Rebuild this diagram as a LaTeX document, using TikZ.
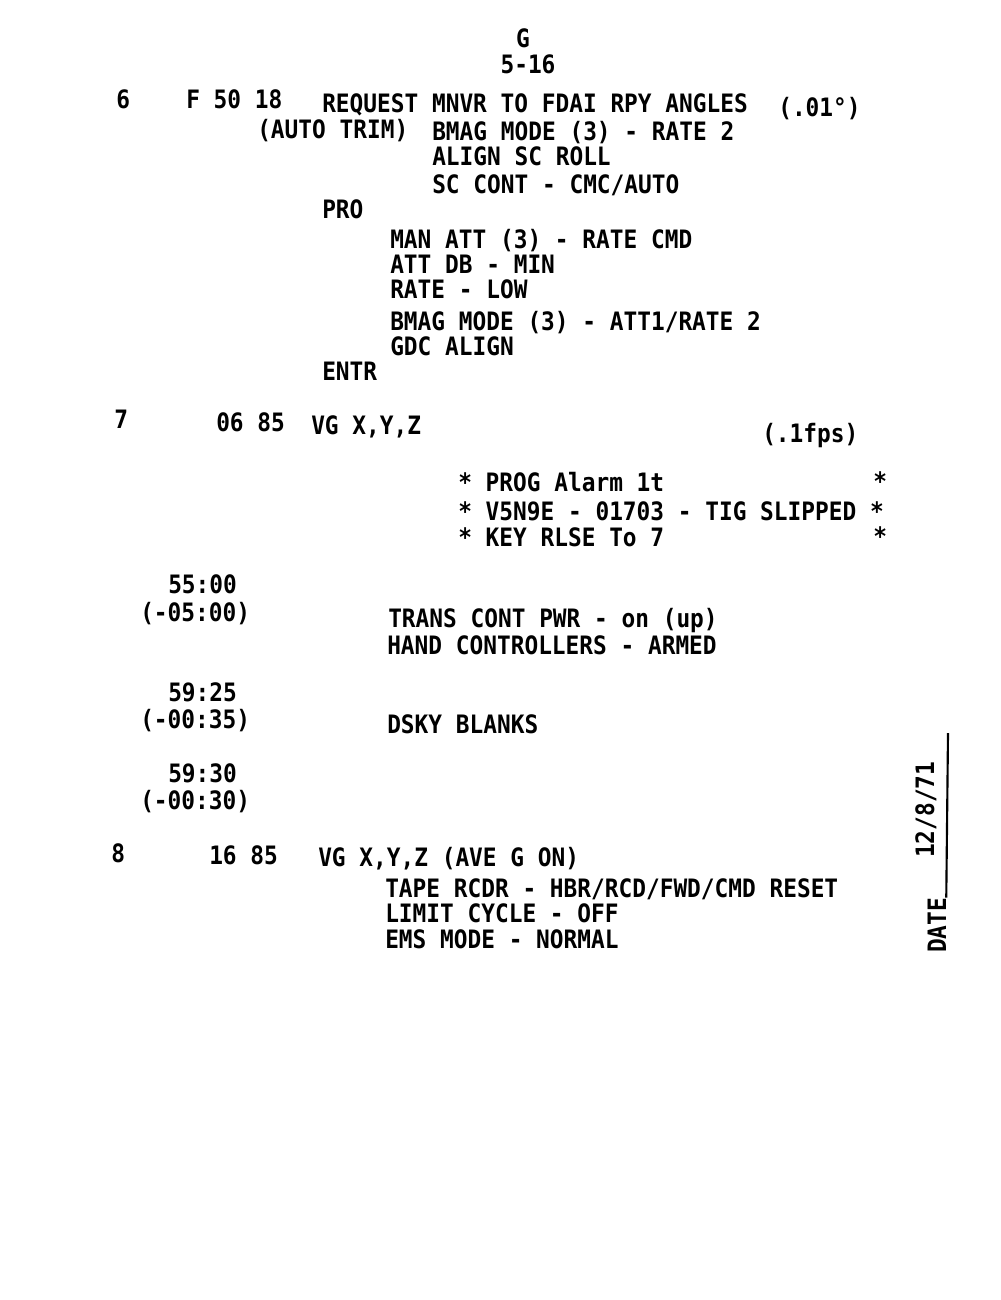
\documentclass[tikz,border=0pt]{standalone}
\usepackage{fontspec}
\newfontfamily\typewr{DejaVu Sans Mono}[FakeStretch=0.9]
\usetikzlibrary{positioning}
\tikzset{
    txt/.style={anchor=base west, inner sep=0pt, font=\fontsize{19}{23}\typewr\bfseries},
    mid/.style={txt, anchor=base},
    upward/.style={txt, rotate=90},
}
\begin{document}
\begin{tikzpicture}[x=0.75pt, y=-0.75pt]
    \useasboundingbox[fill=white] (0,0) rectangle (1000,1300);

    % page header
    \node[mid] (hdrG) at (523,47) {G};
    \node[mid] (hdrPage) at (528,73) {5-16};

    % step 6
    \node[txt] (n6) at (116,108) {6};
    \node[txt] (v6) at (186,108) {F 50 18};
    \node[txt] (req) at (322,112) {REQUEST MNVR TO FDAI RPY ANGLES};
    \node[txt] (unitA) at (778,116) {(.01°)};
    \node[txt] (trim) at (257,138) {(AUTO TRIM)};
    \node[txt] (bmagA) at (432,140) {BMAG MODE (3) - RATE 2};
    \node[txt] (roll) at (432,165) {ALIGN SC ROLL};
    \node[txt] (sccont) at (432,193) {SC CONT - CMC/AUTO};
    \node[txt] (pro) at (322,218) {PRO};
    \node[txt] (manatt) at (390,248) {MAN ATT (3) - RATE CMD};
    \node[txt] (attdb) at (390,273) {ATT DB - MIN};
    \node[txt] (rate) at (390,298) {RATE - LOW};
    \node[txt] (bmagB) at (390,330) {BMAG MODE (3) - ATT1/RATE 2};
    \node[txt] (gdc) at (390,355) {GDC ALIGN};
    \node[txt] (entr) at (322,380) {ENTR};

    % step 7
    \node[txt] (n7) at (114,428) {7};
    \node[txt] (v7) at (216,431) {06 85};
    \node[txt] (vgA) at (311,434) {VG X,Y,Z};
    \node[txt] (unitB) at (762,442) {(.1fps)};
    \node[txt] (alarm) at (458,491) {* PROG Alarm 1t};
    \node[txt] (alarmR) at (873,490) {*};
    \node[txt] (v5n9e) at (458,520) {* V5N9E - 01703 - TIG SLIPPED *};
    \node[txt] (key) at (458,546) {* KEY RLSE To 7};
    \node[txt] (keyR) at (873,545) {*};

    % times
    \node[txt] (tA) at (168,593) {55:00};
    \node[txt] (dtA) at (140,621) {(-05:00)};
    \node[txt] (trans) at (388,627) {TRANS CONT PWR - on (up)};
    \node[txt] (hand) at (387,654) {HAND CONTROLLERS - ARMED};
    \node[txt] (tB) at (168,701) {59:25};
    \node[txt] (dtB) at (140,728) {(-00:35)};
    \node[txt] (dsky) at (387,733) {DSKY BLANKS};
    \node[txt] (tC) at (168,782) {59:30};
    \node[txt] (dtC) at (140,809) {(-00:30)};

    % step 8
    \node[txt] (n8) at (111,862) {8};
    \node[txt] (v8) at (209,864) {16 85};
    \node[txt] (vgB) at (318,866) {VG X,Y,Z (AVE G ON)};
    \node[txt] (tape) at (385,897) {TAPE RCDR - HBR/RCD/FWD/CMD RESET};
    \node[txt] (limit) at (385,922) {LIMIT CYCLE - OFF};
    \node[txt] (ems) at (385,948) {EMS MODE - NORMAL};

    % date
    \node[upward] (date) at (946,953) {DATE};
    \node[upward] (dateVal) at (934,858) {12/8/71};
    \coordinate (rule) at (948,733);
    \draw[line width=1.6pt] (date.south east) -- (rule);
\end{tikzpicture}
\end{document}
